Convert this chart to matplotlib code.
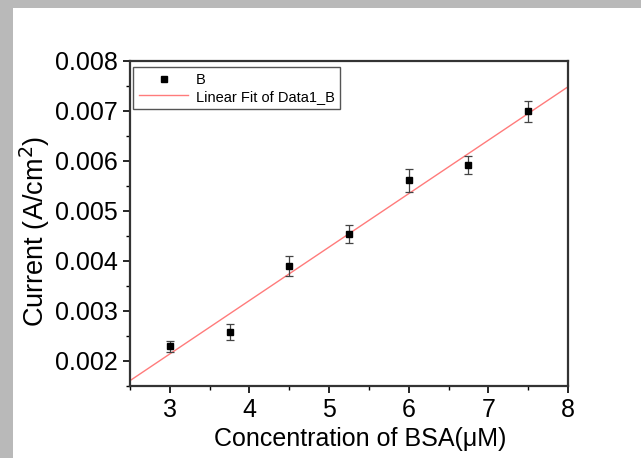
import numpy as np
import matplotlib
matplotlib.use('Agg')
import matplotlib.pyplot as plt
from matplotlib.patches import Rectangle
from matplotlib.lines import Line2D
from matplotlib.ticker import MultipleLocator

# datos
conc = [3.0, 3.75, 4.5, 5.25, 6.0, 6.75, 7.5]
corriente = [0.00230, 0.00258, 0.00390, 0.00453, 0.00561, 0.00591, 0.00699]
error = [0.00011, 0.00016, 0.00020, 0.00018, 0.00023, 0.00018, 0.00022]

plt.rcParams['font.family'] = ['Liberation Sans', 'DejaVu Sans']

fig = plt.figure(figsize=(6.41, 4.58), dpi=100)
fig.patch.set_facecolor('#b9b9b9')
# zona blanca sobre el fondo gris
fig.patches.append(Rectangle((13 / 641, 0), 1, 1 - 8 / 458, transform=fig.transFigure,
                             facecolor='white', edgecolor='none', zorder=-10))

ax = fig.add_axes([130 / 641, 1 - 386 / 458, 438 / 641, 325 / 458])

# ajuste lineal
m, b = np.polyfit(conc, corriente, 1)
xs = np.array([2.5, 8.0])
ax.plot(xs, m * xs + b, color='#ff7b7b', lw=1, zorder=2)

ax.errorbar(conc, corriente, yerr=error, fmt='s', color='k', ms=4.8,
            ecolor='#444444', elinewidth=0.9, capsize=3, capthick=0.9, zorder=3)

ax.set_xlim(2.5, 8)
ax.set_ylim(0.0015, 0.008)
ax.xaxis.set_major_locator(MultipleLocator(1))
ax.xaxis.set_minor_locator(MultipleLocator(0.5))
ax.yaxis.set_major_locator(MultipleLocator(0.001))
ax.yaxis.set_minor_locator(MultipleLocator(0.0005))
ax.yaxis.set_major_formatter(matplotlib.ticker.FormatStrFormatter('%.3f'))
ax.tick_params(direction='out', which='major', length=5, width=1.2, labelsize=18,
               top=False, right=False)
ax.tick_params(direction='out', which='minor', length=3, width=1.0,
               top=False, right=False)
for s in ax.spines.values():
    s.set_linewidth(1.6)
    s.set_color('#333333')

ax.set_xlabel('Concentration of BSA(μM)', fontsize=18)
ax.set_ylabel('Current (A/cm$^2$)', fontsize=19.5)
ax.xaxis.set_label_coords(0.525, -0.125)
ax.yaxis.set_label_coords(-0.178, 0.477)

handles = [Line2D([], [], ls='none', marker='s', color='k', ms=4),
           Line2D([], [], color='#ff7b7b', lw=1)]
leg = ax.legend(handles, ['B', 'Linear Fit of Data1_B'], loc='upper left',
                bbox_to_anchor=(0.007, 0.982), fontsize=10.5, fancybox=False,
                edgecolor='#555555', framealpha=1, borderaxespad=0,
                handlelength=3.4, labelspacing=0.2, borderpad=0.4,
                handletextpad=0.5)
leg.get_frame().set_linewidth(1.0)

fig.savefig('out.png', dpi=100, facecolor=fig.get_facecolor())
